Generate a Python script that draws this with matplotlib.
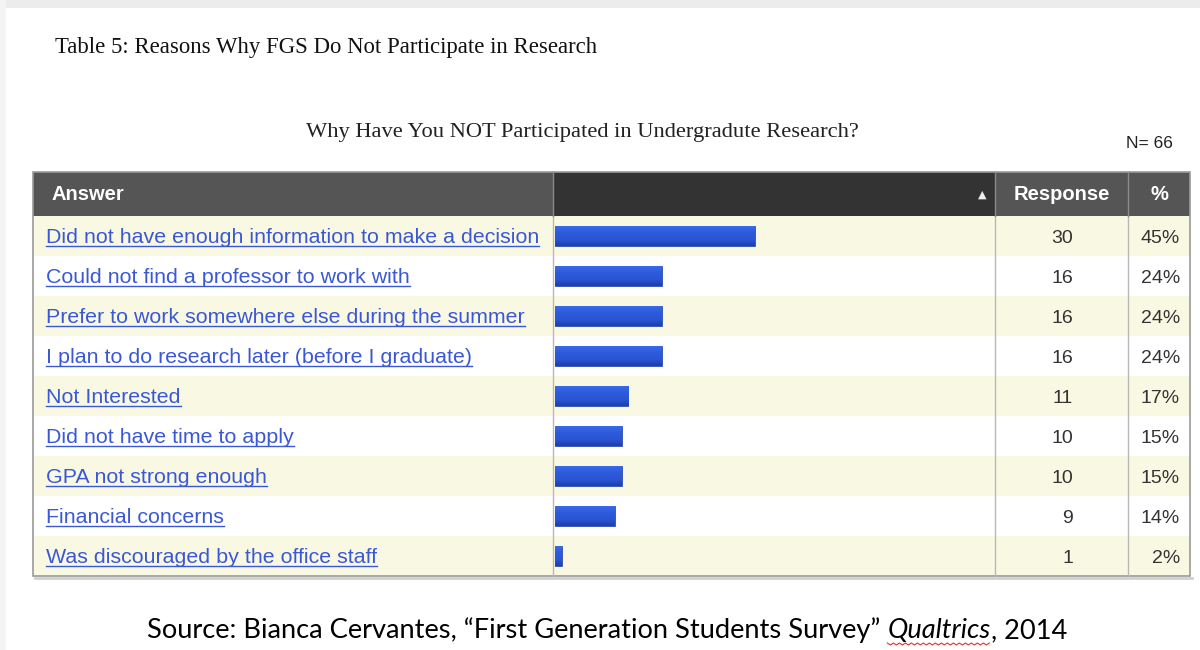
import numpy as np
import matplotlib
matplotlib.use("Agg")
from matplotlib import pyplot as plt
from matplotlib.patches import Rectangle

#%% Data

answers = [
    "Did not have enough information to make a decision",
    "Could not find a professor to work with",
    "Prefer to work somewhere else during the summer",
    "I plan to do research later (before I graduate)",
    "Not Interested",
    "Did not have time to apply",
    "GPA not strong enough",
    "Financial concerns",
    "Was discouraged by the office staff",
]
responses = [30, 16, 16, 16, 11, 10, 10, 9, 1]
percents = [45, 24, 24, 24, 17, 15, 15, 14, 2]
n_total = 66

title = "Table 5: Reasons Why FGS Do Not Participate in Research"
question = "Why Have You NOT Participated in Undergradute Research?"
headers = ["Answer", "Response", "%"]

#%% Layout (pixels)

W, H = 1200, 650
X0, XA, XB, XR, X1 = 33, 553, 995, 1128, 1190
HEAD_TOP, TOP, ROW_H = 172, 216, 40
n = len(answers)
LINK = "#3a58d6"

fig = plt.figure(figsize=(W / 100, H / 100), dpi=100)
ax = fig.add_axes([0, 0, 1, 1])
ax.set_xlim(0, W)
ax.set_ylim(H, 0)
ax.axis("off")

# faint page frame
ax.add_patch(Rectangle((0, 0), W, 8, color="#ececec", lw=0))
ax.add_patch(Rectangle((0, 0), 6, H, color="#f4f4f4", lw=0))

ax.text(55, 48, title, fontsize=16.4, family="Liberation Serif", va="center", color="#111")
ax.text(582, 133, question, fontsize=16.2, family="Liberation Serif", va="center", ha="center", color="#222")
ax.text(1173, 143, f"N= {n_total}", fontsize=12.5, family="Liberation Sans", va="center", ha="right", color="#222")

# header
ax.add_patch(Rectangle((X0, HEAD_TOP), XA - X0, TOP - HEAD_TOP, color="#555555", lw=0))
ax.add_patch(Rectangle((XA, HEAD_TOP), XB - XA, TOP - HEAD_TOP, color="#333333", lw=0))
ax.add_patch(Rectangle((XB, HEAD_TOP), X1 - XB, TOP - HEAD_TOP, color="#555555", lw=0))
hy = (HEAD_TOP + TOP) / 2
hkw = dict(color="white", fontsize=14.5, weight="bold", family="Liberation Sans", va="baseline")
ax.text(52, hy + 6, headers[0], **hkw)
ax.text(982, hy + 1, "\u25B2", color="#eeeeee", fontsize=8, va="center", ha="center")
ax.text((XB + XR) / 2, hy + 6, headers[1], ha="center", **hkw)
ax.text((XR + X1) / 2, hy + 6, headers[2], ha="center", **hkw)

# rows
labels = []
for i, (a, r, p) in enumerate(zip(answers, responses, percents)):
    y0 = TOP + i * ROW_H
    yc = y0 + ROW_H / 2
    ax.add_patch(Rectangle((X0, y0), X1 - X0, ROW_H, color="#f9f9e3" if i % 2 == 0 else "white", lw=0))
    t = ax.text(46, yc + 7, a, color=LINK, fontsize=15.4, family="Liberation Sans", va="baseline")
    labels.append((t, yc + 9.5))
    ax.text(1073, yc + 7, str(r), color="#333", fontsize=14, family="Liberation Sans", va="baseline", ha="right")
    ax.text(1180, yc + 7, f"{p}%", color="#333", fontsize=14, family="Liberation Sans", va="baseline", ha="right")

# grid lines
bottom = TOP + n * ROW_H
for x in (XA, XB, XR):
    ax.plot([x, x], [TOP, bottom], color="#b8b8b8", lw=1)
    ax.plot([x, x], [HEAD_TOP, TOP], color="#8a8a8a", lw=1)
ax.add_patch(Rectangle((X0, HEAD_TOP), X1 - X0, bottom - HEAD_TOP, fill=False, ec="#9a9a9a", lw=1.2))
ax.plot([X0 + 2, X1 + 2], [bottom + 2, bottom + 2], color="#d0d0d0", lw=2)

# bars with vertical gradient
axb = fig.add_axes([XA / W, 1 - bottom / H, (XB - XA) / W, n * ROW_H / H])
bars = axb.barh(range(n), responses, height=0.5, color="none", edgecolor="#1d3fae", lw=0.6)
axb.axis("off")
axb.patch.set_alpha(0)
grad = np.linspace(0, 1, 64).reshape(-1, 1)
cmap = matplotlib.colors.LinearSegmentedColormap.from_list(
    "bar", ["#3a6ae6", "#2d5bdb", "#2a55d4", "#1c3fae"])
for b in bars:
    x0b, y0b = b.get_x(), b.get_y()
    im = axb.imshow(grad, cmap=cmap, aspect="auto", interpolation="bilinear",
                    extent=(x0b, x0b + b.get_width(), y0b + b.get_height(), y0b), zorder=1)
    im.set_clip_path(b)
axb.set_xlim(-0.3, n_total)
axb.set_ylim(n - 0.5, -0.5)

# underlines and source line
fig.canvas.draw()
r = fig.canvas.get_renderer()
inv = ax.transData.inverted()

for t, uy in labels:
    bb = t.get_window_extent(r)
    xa_, _ = inv.transform((bb.x0, bb.y0))
    xb_, _ = inv.transform((bb.x1, bb.y0))
    ax.plot([xa_, xb_], [uy, uy], color=LINK, lw=1)

parts = [("Source: Bianca Cervantes, \u201cFirst Generation Students Survey\u201d ", "normal"),
         ("Qualtrics", "italic"), (", 2014", "normal")]
texts = []
for s, style in parts:
    texts.append(ax.text(0, 638, s, fontsize=19.6, family="Lato", style=style, va="baseline", color="#000"))
widths = [t.get_window_extent(r).width for t in texts]
x = 607 - sum(widths) / 2
for t, w, (s, style) in zip(texts, widths, parts):
    t.set_x(x)
    if style == "italic":
        xs = np.arange(x, x + w, 3)
        ax.plot(xs, 643 + (np.arange(len(xs)) % 2) * 2, color="#e03030", lw=0.8)
    x += w

fig.savefig("out.png", dpi=100)
